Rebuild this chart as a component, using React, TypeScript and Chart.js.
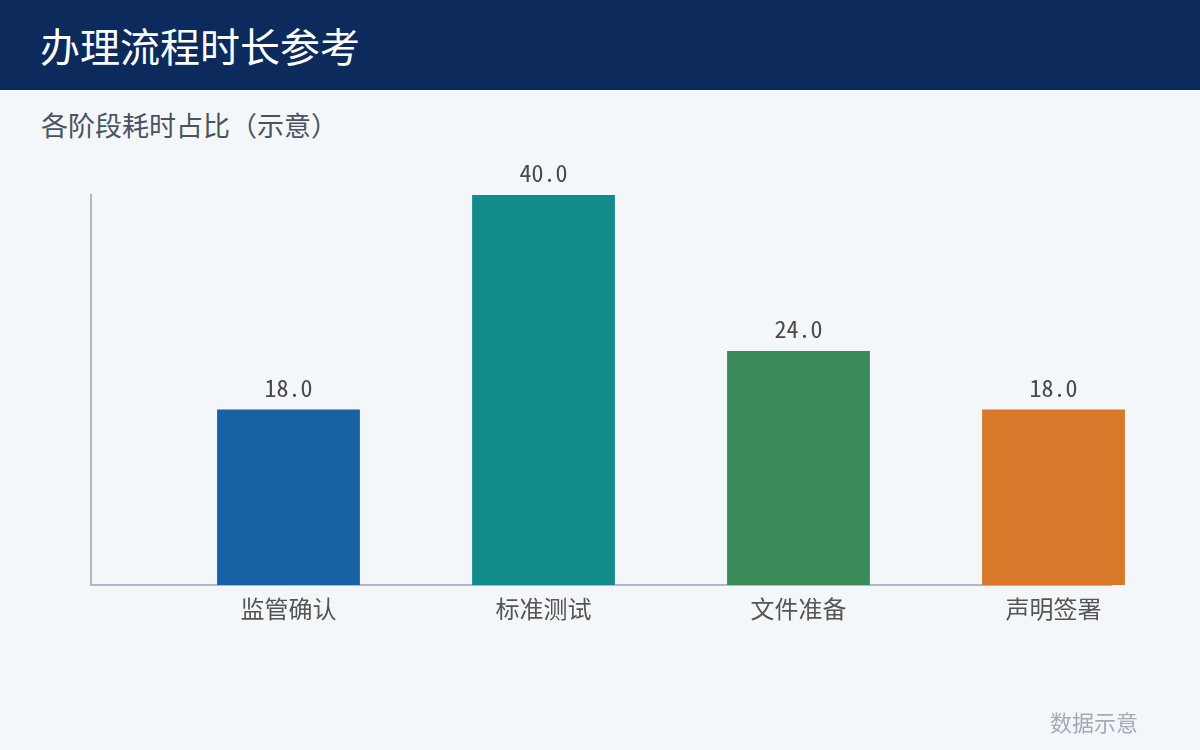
import React, { useEffect, useRef } from "react";
import { Chart, registerables } from "chart.js";

Chart.register(...registerables);

const TITLE = "办理流程时长参考";
const SUBTITLE = "各阶段耗时占比（示意）";
const NOTE = "数据示意";
const categories = ["监管确认", "标准测试", "文件准备", "声明签署"];
const values = [18, 40, 24, 18];
const barColors = ["#1762a3", "#138a8c", "#3a8a5a", "#d8782a"];
const yMax = 40;

const valueLabelPlugin = {
  id: "valueLabels",
  afterDatasetsDraw(chart: any) {
    const { ctx } = chart;
    const meta = chart.getDatasetMeta(0);
    ctx.save();
    ctx.font = "24px 'Noto Sans Mono CJK SC', 'Noto Sans CJK SC', monospace";
    ctx.fillStyle = "#4a4a4a";
    ctx.textAlign = "center";
    ctx.textBaseline = "middle";
    meta.data.forEach((el: any, i: number) => {
      ctx.fillText(values[i].toFixed(1), el.x, el.y - 22);
    });
    ctx.restore();
  },
};

export default function App() {
  const ref = useRef<HTMLCanvasElement | null>(null);

  useEffect(() => {
    document.body.style.margin = "0";
    const chart = new Chart(ref.current as HTMLCanvasElement, {
      type: "bar",
      data: {
        datasets: [
          {
            data: values.map((v, i) => ({ x: i, y: v })),
            backgroundColor: barColors,
            borderWidth: 0,
            barPercentage: 0.7,
            categoryPercentage: 0.8,
            clip: false as any,
          },
        ],
      },
      options: {
        responsive: false,
        animation: false,
        events: [],
        layout: { padding: { left: 91, right: 89, top: 195, bottom: 105 } },
        plugins: { legend: { display: false }, tooltip: { enabled: false } },
        scales: {
          x: {
            type: "linear",
            min: -0.7745,
            max: 3.2255,
            offset: false,
            grid: { display: false },
            border: { display: true, color: "#aeb8c6", width: 2 },
            afterBuildTicks: (scale: any) => {
              scale.ticks = categories.map((_, i) => ({ value: i }));
            },
            afterFit: (scale: any) => {
              scale.height = 60;
            },
            ticks: {
              autoSkip: false,
              maxRotation: 0,
              padding: 1,
              color: "#555555",
              font: { size: 24, family: "'Noto Sans CJK SC', sans-serif" },
              callback: (v: any) => categories[Math.round(Number(v))] ?? "",
            },
          },
          y: {
            min: 0,
            max: yMax,
            grid: { display: false },
            border: { display: true, color: "#aeb8c6", width: 2 },
            ticks: { display: false },
            afterFit: (scale: any) => {
              scale.width = 0;
            },
          },
        },
      },
      plugins: [valueLabelPlugin],
    } as any);
    return () => chart.destroy();
  }, []);

  return (
    <div
      style={{
        position: "absolute",
        left: 0,
        top: 0,
        width: 1200,
        height: 750,
        background: "#f4f7fa",
        overflow: "hidden",
        fontFamily: "'Noto Sans CJK SC', sans-serif",
      }}
    >
      <div
        style={{
          position: "absolute",
          left: 0,
          top: 0,
          width: 1200,
          height: 90,
          background: "#0c2a5c",
        }}
      />
      <div
        style={{
          position: "absolute",
          left: 40,
          top: 0,
          height: 90,
          lineHeight: "90px",
          fontSize: 40,
          color: "#ffffff",
          whiteSpace: "nowrap",
        }}
      >
        {TITLE}
      </div>
      <div
        style={{
          position: "absolute",
          left: 41,
          top: 106,
          lineHeight: "38px",
          fontSize: 27,
          color: "#4a5363",
          whiteSpace: "nowrap",
        }}
      >
        {SUBTITLE}
      </div>
      <canvas
        ref={ref}
        width={1200}
        height={750}
        style={{ position: "absolute", left: 0, top: 0, width: 1200, height: 750 }}
      />
      <div
        style={{
          position: "absolute",
          right: 62,
          top: 706,
          lineHeight: "30px",
          fontSize: 22,
          color: "#a3abb7",
          whiteSpace: "nowrap",
        }}
      >
        {NOTE}
      </div>
    </div>
  );
}
